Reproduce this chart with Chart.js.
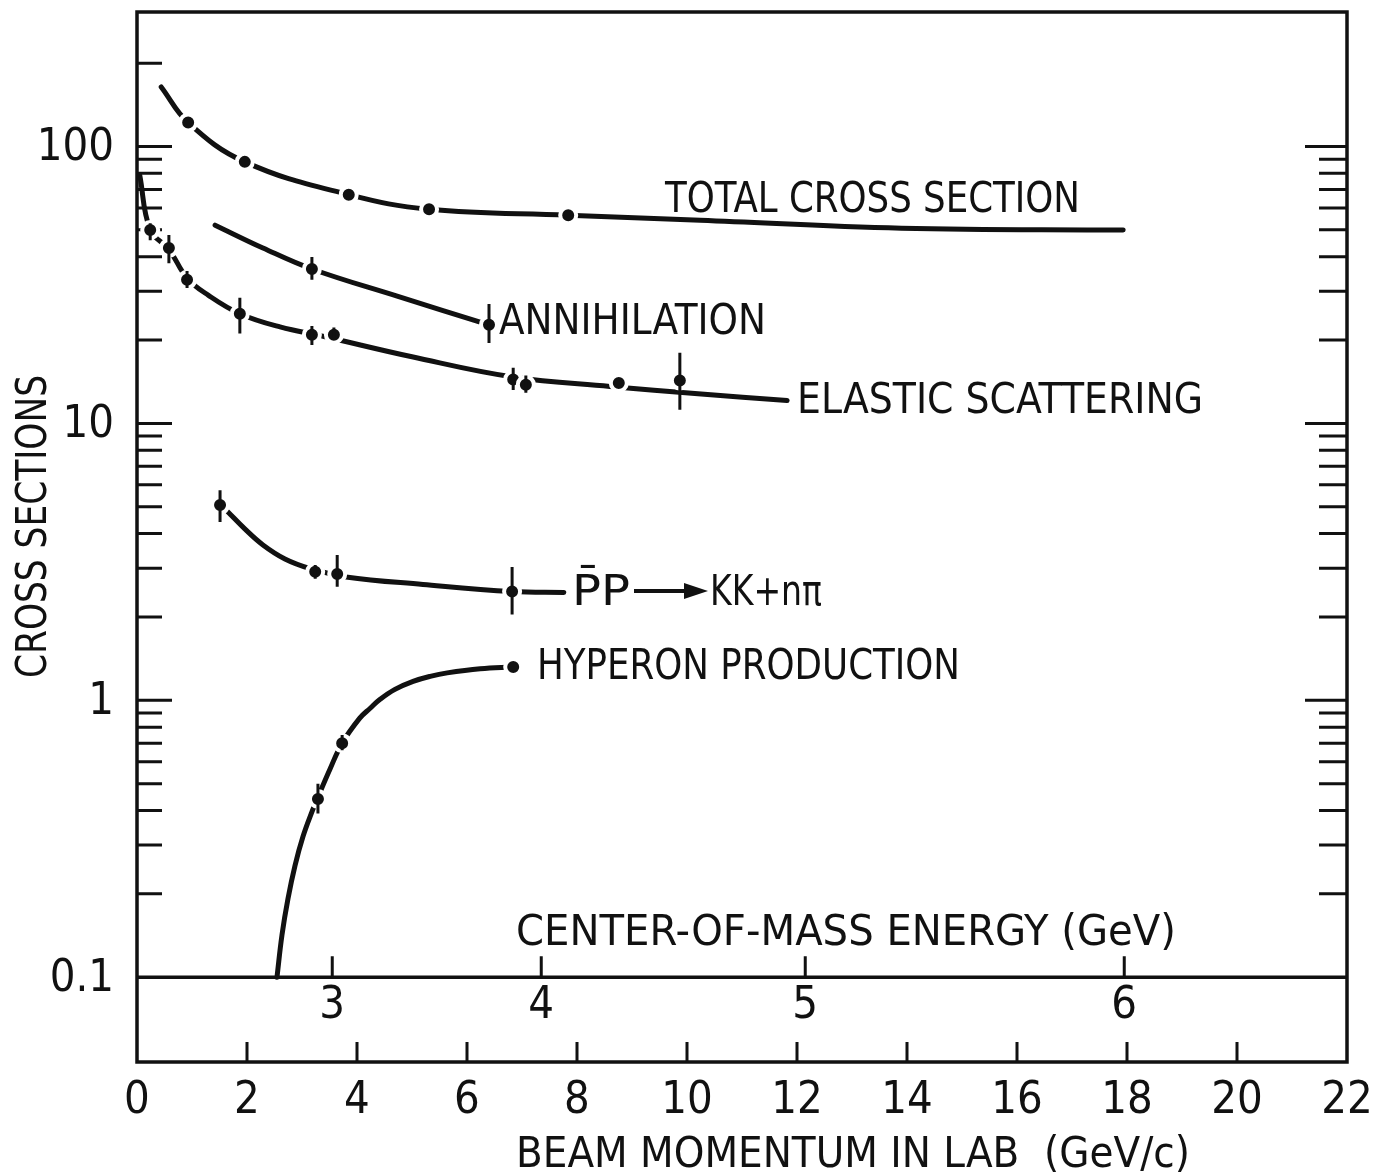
<!DOCTYPE html>
<html>
<head>
<meta charset="utf-8">
<title>Antiproton-proton cross sections</title>
<script src="https://cdn.jsdelivr.net/npm/chart.js@4.4.1/dist/chart.umd.min.js"></script>
<style>
  body { margin: 0; background: #fff; }
  canvas { display: block; }
</style>
</head>
<body>
<canvas id="myChart" width="1386" height="1175"></canvas>
<script>
// axis values
var momentumTicks = [0, 2, 4, 6, 8, 10, 12, 14, 16, 18, 20, 22];
var cmLabels = [3, 4, 5, 6];                   // centre-of-mass energy (GeV)
var cmMomentum = [3.55, 7.35, 12.15, 17.95];  // where they sit on the beam momentum scale
var yLabels = [100, 10, 1, 0.1];
var yMinorTicks = [0.2, 0.3, 0.4, 0.5, 0.6, 0.7, 0.8, 0.9,
                   2, 3, 4, 5, 6, 7, 8, 9,
                   20, 30, 40, 50, 60, 70, 80, 90];
var yLeftOnlyTicks = [200];

// total cross section
var totalX = [0.93, 1.96, 3.85, 5.31, 7.84];
var totalY = [122, 88, 67, 59.3, 56.5];
var totalCurveX = [0.44, 0.93, 1.96, 3.85, 5.31, 7.84, 10.24, 13.9, 17.93];
var totalCurveY = [164, 122, 88, 67, 59.3, 56.5, 54.2, 50.7, 49.9];

// annihilation
var annX = [3.18, 6.4];
var annY = [36.1, 22.7];
var annLo = [33.0, 19.5];
var annHi = [39.9, 27.0];
var annCurveX = [1.42, 2.29, 3.18, 4.73, 6.4];
var annCurveY = [52, 43, 36.1, 28.8, 22.7];

// elastic scattering
var elX = [0.24, 0.58, 0.91, 1.87, 3.18, 3.58, 6.84, 7.07, 8.76, 9.87];
var elY = [49.9, 43.0, 33.0, 24.9, 20.9, 20.9, 14.4, 13.8, 14.0, 14.3];
var elLo = [45.9, 37.9, 30.8, 21.1, 19.2, 20.0, 13.2, 12.9, null, 11.2];
var elHi = [52.8, 47.9, 35.5, 28.4, 22.5, 22.2, 15.9, 14.9, null, 18.0];
var elCurveX = [0.05, 0.24, 0.58, 0.91, 1.3, 1.87, 2.6, 3.4, 5.0, 6.84, 8.6, 10.2, 11.82];
var elCurveY = [78.7, 50, 42.5, 33.5, 29, 24.9, 22.3, 20.6, 17.4, 14.7, 13.6, 12.8, 12.1];

// pbar p -> K Kbar + n pi
var ppX = [1.51, 3.24, 3.64, 6.82];
var ppY = [5.07, 2.91, 2.86, 2.47];
var ppLo = [4.40, 2.75, 2.57, 2.04];
var ppHi = [5.74, 3.08, 3.35, 3.03];
var ppCurveX = [1.65, 1.96, 2.29, 2.69, 3.15, 3.8, 5.2, 6.82, 7.76];
var ppCurveY = [4.8, 4.16, 3.64, 3.24, 2.99, 2.79, 2.62, 2.47, 2.45];

// hyperon production
var hyX = [3.29, 3.73, 6.84];
var hyY = [0.44, 0.70, 1.32];
var hyLo = [0.39, 0.66, null];
var hyHi = [0.50, 0.75, null];
var hyCurveX = [2.545, 2.636, 2.745, 2.873, 3.018, 3.182, 3.29, 3.51, 3.73,
                4.05, 4.24, 4.42, 4.69, 5.02, 5.33, 5.64, 6.24, 6.84];
var hyCurveY = [0.1, 0.142, 0.192, 0.253, 0.322, 0.396, 0.447, 0.565, 0.70,
                0.862, 0.936, 1.008, 1.095, 1.17, 1.22, 1.256, 1.30, 1.32];

var INK = '#111';
var FONT = "'Liberation Sans Narrow', 'DejaVu Sans Condensed', sans-serif";

function toPoints(xs, ys) {
  var out = [];
  for (var i = 0; i < xs.length; i++) out.push({ x: xs[i], y: ys[i] });
  return out;
}

function curve(xs, ys) {
  return {
    type: 'line',
    data: toPoints(xs, ys),
    borderColor: INK,
    borderWidth: 5,
    pointRadius: 0,
    fill: false,
    tension: 0.4,
    borderCapStyle: 'round',
    order: 2
  };
}

function dots(xs, ys, lo, hi) {
  return {
    type: 'line',
    data: toPoints(xs, ys),
    showLine: false,
    pointRadius: 8,
    pointBorderWidth: 4,
    pointBackgroundColor: INK,
    pointBorderColor: '#fff',
    errLo: lo,
    errHi: hi,
    order: 1
  };
}

// draw text, stretched to the width it has in the figure
function fitText(ctx, text, x, y, size, width, align) {
  ctx.font = size + 'px ' + FONT;
  var w = ctx.measureText(text).width;
  var k = width ? width / w : 1;
  ctx.save();
  ctx.translate(x, y);
  ctx.scale(k, 1);
  ctx.textAlign = align || 'left';
  ctx.textBaseline = 'alphabetic';
  ctx.fillStyle = INK;
  ctx.fillText(text, 0, 0);
  ctx.restore();
}

// frame, inward ticks and the centre-of-mass strip
var framePlugin = {
  id: 'frame',
  beforeDatasetsDraw: function(chart) {
    var ctx = chart.ctx, a = chart.chartArea;
    var xs = chart.scales.x, ys = chart.scales.y;
    ctx.save();
    ctx.strokeStyle = INK;
    ctx.lineCap = 'butt';
    ctx.lineWidth = 3.5;
    ctx.strokeRect(a.left, a.top, a.width, a.height);

    var y01 = ys.getPixelForValue(0.1);
    ctx.beginPath();
    ctx.moveTo(a.left, y01);
    ctx.lineTo(a.right, y01);
    ctx.stroke();

    ctx.lineWidth = 3;
    ctx.beginPath();
    yLabels.forEach(function(v) {
      if (v === 0.1) return;
      var y = ys.getPixelForValue(v);
      ctx.moveTo(a.left, y); ctx.lineTo(a.left + 35, y);
      ctx.moveTo(a.right, y); ctx.lineTo(a.right - 42, y);
    });
    yMinorTicks.forEach(function(v) {
      var y = ys.getPixelForValue(v);
      ctx.moveTo(a.left, y); ctx.lineTo(a.left + 25, y);
      ctx.moveTo(a.right, y); ctx.lineTo(a.right - 28, y);
    });
    yLeftOnlyTicks.forEach(function(v) {
      var y = ys.getPixelForValue(v);
      ctx.moveTo(a.left, y); ctx.lineTo(a.left + 25, y);
    });
    momentumTicks.forEach(function(v) {
      if (v <= xs.min || v >= xs.max) return;
      var x = xs.getPixelForValue(v);
      ctx.moveTo(x, a.bottom); ctx.lineTo(x, a.bottom - 20);
    });
    cmMomentum.forEach(function(v) {
      var x = xs.getPixelForValue(v);
      ctx.moveTo(x, y01); ctx.lineTo(x, y01 - 21);
    });
    ctx.stroke();
    ctx.restore();
  },
  afterDatasetsDraw: function(chart) {
    // error bars
    var ctx = chart.ctx, xs = chart.scales.x, ys = chart.scales.y;
    ctx.save();
    ctx.strokeStyle = INK;
    ctx.lineWidth = 3;
    ctx.beginPath();
    chart.data.datasets.forEach(function(ds) {
      if (!ds.errLo) return;
      ds.data.forEach(function(p, i) {
        if (ds.errLo[i] == null) return;
        var x = xs.getPixelForValue(p.x);
        ctx.moveTo(x, ys.getPixelForValue(ds.errLo[i]));
        ctx.lineTo(x, ys.getPixelForValue(ds.errHi[i]));
      });
    });
    ctx.stroke();
    ctx.restore();
  },
  afterDraw: function(chart) {
    var ctx = chart.ctx, xs = chart.scales.x, ys = chart.scales.y;
    ctx.save();
    ctx.font = '45px ' + FONT;
    ctx.fillStyle = INK;

    // tick labels
    ctx.textAlign = 'center';
    ctx.textBaseline = 'middle';
    momentumTicks.forEach(function(v) {
      ctx.fillText(String(v), xs.getPixelForValue(v), 1101);
    });
    var y01 = ys.getPixelForValue(0.1);
    cmLabels.forEach(function(v, i) {
      ctx.fillText(String(v), xs.getPixelForValue(cmMomentum[i]), y01 + 29);
    });
    ctx.textAlign = 'right';
    yLabels.forEach(function(v) {
      ctx.fillText(String(v), 114, ys.getPixelForValue(v) + 2);
    });
    ctx.restore();

    // curve labels
    fitText(ctx, 'TOTAL CROSS SECTION', 665, 212, 43, 415);
    fitText(ctx, 'ANNIHILATION', 499, 334, 43, 267);
    fitText(ctx, 'ELASTIC SCATTERING', 797, 413, 43, 406);
    fitText(ctx, 'HYPERON PRODUCTION', 537, 679, 43, 423);
    fitText(ctx, 'P\u0304P', 572, 605, 43, 58);
    fitText(ctx, 'KK+n\u03c0', 710, 605, 43, 112);

    // reaction arrow
    ctx.save();
    ctx.strokeStyle = INK;
    ctx.fillStyle = INK;
    ctx.lineWidth = 4;
    ctx.beginPath();
    ctx.moveTo(634, 591); ctx.lineTo(690, 591);
    ctx.stroke();
    ctx.beginPath();
    ctx.moveTo(684, 583); ctx.lineTo(708, 591); ctx.lineTo(684, 599);
    ctx.closePath();
    ctx.fill();
    ctx.restore();

    // axis titles
    fitText(ctx, 'CENTER-OF-MASS ENERGY (GeV)', 516, 945, 43, 660);
    fitText(ctx, 'BEAM MOMENTUM IN LAB  (GeV/c)', 516, 1167, 43, 674);
    ctx.save();
    ctx.translate(46, 678);
    ctx.rotate(-Math.PI / 2);
    fitText(ctx, 'CROSS SECTIONS', 0, 0, 42, 303);
    ctx.restore();
  }
};

var ctx = document.getElementById('myChart').getContext('2d');

var myChart = new Chart(ctx, {
  type: 'line',
  data: {
    datasets: [
      curve(totalCurveX, totalCurveY),
      dots(totalX, totalY, null, null),
      curve(annCurveX, annCurveY),
      dots(annX, annY, annLo, annHi),
      curve(elCurveX, elCurveY),
      dots(elX, elY, elLo, elHi),
      curve(ppCurveX, ppCurveY),
      dots(ppX, ppY, ppLo, ppHi),
      curve(hyCurveX, hyCurveY),
      dots(hyX, hyY, hyLo, hyHi)
    ]
  },
  options: {
    responsive: false,
    animation: false,
    layout: { padding: { left: 137, right: 39, top: 8, bottom: 113 } },
    plugins: {
      legend: { display: false },
      tooltip: { enabled: false }
    },
    scales: {
      x: { type: 'linear', min: 0, max: 22, display: false },
      y: { type: 'logarithmic', min: 0.0494, max: 306, bounds: 'data', display: false }
    }
  },
  plugins: [framePlugin]
});
</script>
</body>
</html>
